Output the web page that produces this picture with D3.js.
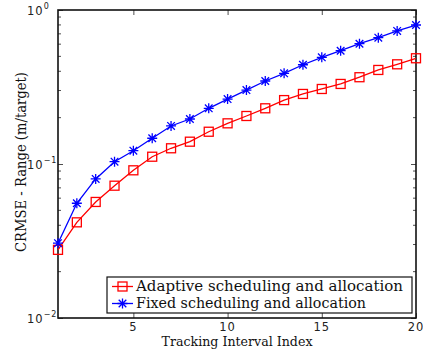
<!DOCTYPE html>
<html>
<head>
<meta charset="utf-8">
<script src="https://cdn.jsdelivr.net/npm/d3@7"></script>
<style>
  body { margin: 0; background: #fff; }
  .tick-label { font-family: "DejaVu Sans", sans-serif; font-size: 11.5px; fill: #222; letter-spacing: 1px; }
  .serif { font-family: "DejaVu Serif", "Liberation Serif", serif; fill: #111; }
</style>
</head>
<body>
<svg id="chart" width="423" height="356"></svg>
<script>
// tracking interval index
var intervals = d3.range(1, 21);
// CRMSE range values
var adaptive = [0.0277, 0.0418, 0.0567, 0.0723, 0.091, 0.1115, 0.1265, 0.1396, 0.162, 0.1837,
                0.205, 0.230, 0.260, 0.285, 0.307, 0.331, 0.366, 0.408, 0.444, 0.486];
var fixed = [0.0306, 0.0556, 0.080, 0.1035, 0.122, 0.147, 0.1766, 0.196, 0.230, 0.264,
             0.302, 0.346, 0.388, 0.441, 0.493, 0.544, 0.604, 0.661, 0.731, 0.799];
var xTicks = [5, 10, 15, 20];
var yDecades = [0, -1, -2];
var legendLabels = ["Adaptive scheduling and allocation", "Fixed scheduling and allocation"];

var margin = {left: 58, top: 10, right: 7, bottom: 38};
var W = 423, H = 356;
var svg = d3.select("#chart");

var x = d3.scaleLinear().domain([1, 20]).range([margin.left, W - margin.right]);
var y = d3.scaleLog().domain([0.01, 1]).range([H - margin.bottom, margin.top]);

// minor log ticks (inward, left and right)
var minor = [];
[0.01, 0.1].forEach(function (d) {
	for (var k = 2; k <= 9; k++) minor.push(d * k);
});
var decadeVals = yDecades.map(function (e) { return Math.pow(10, e); });

var axes = svg.append("g");
function drawY(side) {
	var ax = side === "left" ? d3.axisLeft(y) : d3.axisRight(y);
	var g = axes.append("g")
		.attr("transform", "translate(" + (side === "left" ? x(1) : x(20)) + ",0)")
		.call(ax.tickValues(decadeVals).tickSize(-5).tickFormat(""));
	g.select(".domain").remove();
	g.selectAll(".minor").data(minor).enter().append("line")
		.attr("class", "minor")
		.attr("x1", 0).attr("x2", side === "left" ? 3 : -3)
		.attr("y1", function (d) { return y(d); }).attr("y2", function (d) { return y(d); })
		.attr("stroke", "#222").attr("stroke-width", 0.8);
	g.selectAll(".tick line").attr("stroke", "#222").attr("stroke-width", 0.8);
}
drawY("left");
drawY("right");

function drawX(side) {
	var ax = side === "bottom" ? d3.axisBottom(x) : d3.axisTop(x);
	var g = axes.append("g")
		.attr("transform", "translate(0," + (side === "bottom" ? y(0.01) : y(1)) + ")")
		.call(ax.tickValues(xTicks).tickSize(-5).tickFormat(""));
	g.select(".domain").remove();
	g.selectAll(".tick line").attr("stroke", "#222").attr("stroke-width", 0.8);
}
drawX("bottom");
drawX("top");

// frame
svg.append("rect")
	.attr("x", x(1)).attr("y", y(1))
	.attr("width", x(20) - x(1)).attr("height", y(0.01) - y(1))
	.attr("fill", "none").attr("stroke", "#111").attr("stroke-width", 1.6);

// x tick labels
svg.selectAll(".xlab").data(xTicks).enter().append("text")
	.attr("class", "tick-label")
	.attr("x", function (d) { return x(d); })
	.attr("y", y(0.01) + 13)
	.attr("text-anchor", "middle")
	.text(function (d) { return d; });

// y tick labels 10^e
var yl = svg.selectAll(".ylab").data(yDecades).enter().append("text")
	.attr("class", "tick-label")
	.attr("x", 27)
	.attr("y", function (d) { return y(Math.pow(10, d)) + 5; });
yl.append("tspan").text("10");
yl.append("tspan").attr("dy", -6).attr("font-size", 8)
	.text(function (d) { return d === 0 ? "0" : "\u2212" + (-d); });

// axis titles
svg.append("text").attr("class", "serif")
	.attr("x", (x(1) + x(20)) / 2).attr("y", 346)
	.attr("text-anchor", "middle").attr("font-size", 12.5)
	.attr("textLength", 151).attr("lengthAdjust", "spacingAndGlyphs")
	.text("Tracking Interval Index");
svg.append("text").attr("class", "serif")
	.attr("transform", "translate(26," + ((y(1) + y(0.01)) / 2 - 2) + ") rotate(-90)")
	.attr("text-anchor", "middle").attr("font-size", 14)
	.attr("textLength", 180).attr("lengthAdjust", "spacingAndGlyphs")
	.text("CRMSE - Range (m/target)");

// series
var line = function (vals) {
	return d3.line()
		.x(function (d, i) { return x(intervals[i]); })
		.y(function (d) { return y(d); })(vals);
};

function square(g, cx, cy, col) {
	g.append("rect").attr("x", cx - 4.5).attr("y", cy - 4.5).attr("width", 9).attr("height", 9)
		.attr("fill", "none").attr("stroke", col).attr("stroke-width", 1.3);
}
function star(g, cx, cy, col) {
	var r = 5, r2 = 3.8;
	var p = "M" + (cx - r) + "," + cy + "L" + (cx + r) + "," + cy +
		"M" + cx + "," + (cy - r) + "L" + cx + "," + (cy + r) +
		"M" + (cx - r2) + "," + (cy - r2) + "L" + (cx + r2) + "," + (cy + r2) +
		"M" + (cx - r2) + "," + (cy + r2) + "L" + (cx + r2) + "," + (cy - r2);
	g.append("path").attr("d", p).attr("stroke", col).attr("stroke-width", 1.3).attr("fill", "none");
}

var series = [
	{vals: adaptive, col: "#ff0000", mark: square},
	{vals: fixed, col: "#0000ff", mark: star}
];
series.forEach(function (s) {
	var g = svg.append("g");
	g.append("path").attr("d", line(s.vals)).attr("fill", "none")
		.attr("stroke", s.col).attr("stroke-width", 1.3);
	s.vals.forEach(function (v, i) { s.mark(g, x(intervals[i]), y(v), s.col); });
});

// legend
var lg = svg.append("g");
lg.append("rect").attr("x", 107).attr("y", 277).attr("width", 305).attr("height", 36)
	.attr("fill", "#fff").attr("stroke", "#111").attr("stroke-width", 1.2);
var legendWidths = [267, 230];
series.forEach(function (s, i) {
	var ly = 286.5 + i * 17;
	lg.append("line").attr("x1", 112).attr("x2", 133).attr("y1", ly).attr("y2", ly)
		.attr("stroke", s.col).attr("stroke-width", 1.3);
	s.mark(lg, 122.5, ly, s.col);
	lg.append("text").attr("class", "serif").attr("x", 136).attr("y", ly + 4.5)
		.attr("font-size", 14.5)
		.attr("textLength", legendWidths[i]).attr("lengthAdjust", "spacingAndGlyphs")
		.text(legendLabels[i]);
});
</script>
</body>
</html>
